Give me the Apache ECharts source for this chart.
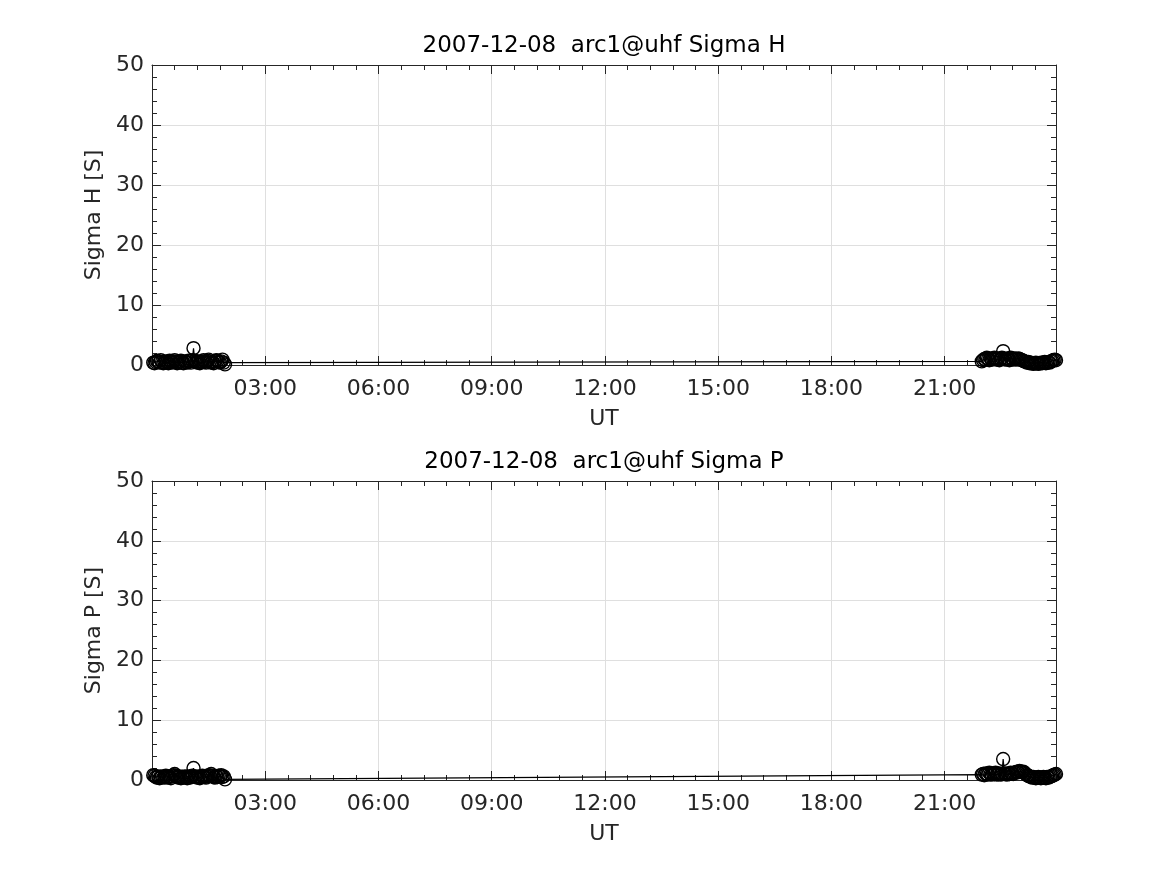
<!DOCTYPE html>
<html>
<head>
<meta charset="utf-8">
<script src="https://cdn.jsdelivr.net/npm/echarts@6/dist/echarts.min.js"></script>
<style>
html,body{margin:0;padding:0;background:#fff;}
#chart{width:1167px;height:875px;}
</style>
</head>
<body>
<div id="chart"></div>
<script>
// Time in minutes of day (UT)
var minutesLeft = [2,4,6,8,10,12,14,16,18,20,22,24,26,28,30,32,34,36,38,40,42,44,46,48,50,52,54,56,58,60,62,64,66,68,70,72,74,76,78,80,82,84,86,88,90,92,94,96,98,100,102,104,106,108,110,112,114,116];
var minutesRight = [1319,1321,1323,1325,1327,1329,1331,1333,1335,1337,1339,1341,1343,1345,1347,1349,1351,1353,1355,1357,1359,1361,1363,1365,1367,1369,1371,1373,1375,1377,1379,1381,1383,1385,1387,1389,1391,1393,1395,1397,1399,1401,1403,1405,1407,1409,1411,1413,1415,1417,1419,1421,1423,1425,1427,1429,1431,1433,1435,1437];

// Sigma H [S]
var sigmaHLeft = [0.4,0.3,0.5,0.7,0.6,0.4,0.8,0.5,0.3,0.4,
                  0.6,0.5,0.3,0.7,0.5,0.4,0.6,0.8,0.5,0.3,
                  0.4,0.5,0.7,0.4,0.3,0.6,0.5,0.4,0.7,0.6,
                  0.4,0.8,2.8,0.7,0.5,0.4,0.6,0.3,0.5,0.6,
                  0.8,0.5,0.4,0.7,0.9,0.6,0.4,0.5,0.3,0.6,
                  0.8,0.7,0.5,0.4,0.6,0.9,0.4,0.1];
var sigmaHRight = [0.6,0.8,1.0,0.9,1.2,1.0,0.8,1.1,0.9,1.0,
                   1.2,1.0,0.9,1.1,0.8,1.0,1.2,2.3,1.0,0.9,
                   1.1,1.0,0.8,1.2,1.0,0.9,1.1,1.0,0.9,1.1,
                   1.0,0.9,0.8,0.7,0.6,0.5,0.4,0.5,0.3,0.4,
                   0.3,0.2,0.3,0.4,0.3,0.2,0.3,0.4,0.3,0.4,
                   0.5,0.3,0.4,0.5,0.4,0.6,0.7,0.8,0.9,0.8];

// Sigma P [S]
var sigmaPLeft = [0.8,0.7,0.5,0.4,0.6,0.3,0.5,0.6,0.4,0.5,
                  0.7,0.4,0.6,0.5,0.3,0.6,0.8,1.0,0.7,0.5,
                  0.4,0.6,0.3,0.5,0.4,0.6,0.5,0.3,0.6,0.4,
                  0.5,0.7,2.0,0.6,0.5,0.4,0.6,0.3,0.5,0.7,
                  0.6,0.5,0.4,0.6,0.8,0.7,1.0,0.7,0.5,0.4,
                  0.6,0.5,0.7,0.6,0.8,0.5,0.6,0.1];
var sigmaPRight = [0.9,1.0,0.8,1.1,1.0,0.9,1.2,1.0,0.9,1.1,
                   1.0,1.2,0.9,1.0,1.1,0.9,1.0,3.5,1.1,1.0,
                   0.9,1.1,1.0,1.2,1.1,1.0,1.2,1.3,1.4,1.3,
                   1.5,1.4,1.3,1.4,1.2,1.0,0.8,0.7,0.6,0.5,
                   0.4,0.5,0.4,0.3,0.4,0.5,0.4,0.3,0.4,0.5,
                   0.4,0.3,0.5,0.4,0.5,0.6,0.7,0.8,0.9,1.0];

var xTickLabels = ['03:00','06:00','09:00','12:00','15:00','18:00','21:00'];
var yTicks = [0,10,20,30,40,50];
var titles = ['2007-12-08  arc1@uhf Sigma H', '2007-12-08  arc1@uhf Sigma P'];
var yNames = ['Sigma H [S]', 'Sigma P [S]'];
var xName = 'UT';

var FONT = 'DejaVu Sans';
var AX = '#262626';
var X_MIN = 0, X_MAX = 1437, X_INT = 180;
var Y_MIN = yTicks[0], Y_MAX = yTicks[yTicks.length-1], Y_INT = 10;

function pairs(t, v) {
  var out = [];
  for (var i = 0; i < t.length; i++) out.push([t[i], v[i]]);
  return out;
}

function xLabel(v) {
  if (v > 0 && v % X_INT === 0) {
    var idx = v / X_INT - 1;
    return xTickLabels[idx] || '';
  }
  return '';
}

var grids = [
  {left:152, top:65, width:904, height:300},
  {left:152, top:481, width:904, height:299}
];

var xAxes = [], yAxes = [], series = [], titleArr = [];
var seriesData = [
  pairs(minutesLeft.concat(minutesRight), sigmaHLeft.concat(sigmaHRight)),
  pairs(minutesLeft.concat(minutesRight), sigmaPLeft.concat(sigmaPRight))
];

for (var g = 0; g < 2; g++) {
  var tickCommon = {show:true, inside:true, length:9, lineStyle:{color:AX, width:1}};
  var minorCommon = {show:true, splitNumber:5, length:5, lineStyle:{color:AX, width:1}};
  xAxes.push({
    type:'value', gridIndex:g, position:'bottom', min:X_MIN, max:X_MAX, interval:X_INT,
    axisLine:{show:true, onZero:false, lineStyle:{color:AX, width:1}},
    axisTick:tickCommon, minorTick:minorCommon,
    axisLabel:{show:true, formatter:xLabel, color:AX, fontFamily:FONT, fontSize:22, margin:13, showMaxLabel:false},
    splitLine:{show:true, lineStyle:{color:'#dfdfdf', width:1}},
    name:xName, nameLocation:'middle', nameGap:43,
    nameTextStyle:{color:AX, fontFamily:FONT, fontSize:22}
  });
  xAxes.push({
    type:'value', gridIndex:g, position:'top', min:X_MIN, max:X_MAX, interval:X_INT,
    axisLine:{show:true, onZero:false, lineStyle:{color:AX, width:1}},
    axisTick:tickCommon, minorTick:minorCommon,
    axisLabel:{show:false}, splitLine:{show:false}
  });
  yAxes.push({
    type:'value', gridIndex:g, position:'left', min:Y_MIN, max:Y_MAX, interval:Y_INT,
    axisLine:{show:true, onZero:false, lineStyle:{color:AX, width:1}},
    axisTick:tickCommon, minorTick:minorCommon,
    axisLabel:{show:true, color:AX, fontFamily:FONT, fontSize:22, margin:8},
    splitLine:{show:true, lineStyle:{color:'#dfdfdf', width:1}},
    name:yNames[g], nameLocation:'middle', nameGap:40, nameRotate:90,
    nameTextStyle:{color:AX, fontFamily:FONT, fontSize:22}
  });
  yAxes.push({
    type:'value', gridIndex:g, position:'right', min:Y_MIN, max:Y_MAX, interval:Y_INT,
    axisLine:{show:true, onZero:false, lineStyle:{color:AX, width:1}},
    axisTick:tickCommon, minorTick:minorCommon,
    axisLabel:{show:false}, splitLine:{show:false}
  });
  series.push({
    type:'line', xAxisIndex:g*2, yAxisIndex:g*2, data:seriesData[g],
    symbol:'circle', symbolSize:13, showAllSymbol:true,
    lineStyle:{color:'#000', width:1.2},
    itemStyle:{color:'rgba(0,0,0,0)', borderColor:'#000', borderWidth:1.4},
    emphasis:{disabled:true}, silent:true, clip:false, z:3
  });
  titleArr.push({
    text:titles[g], left:604, top:(g===0?35:451), textAlign:'center', padding:0,
    textStyle:{color:'#000', fontFamily:FONT, fontSize:23, fontWeight:'normal'}
  });
}

var chart = echarts.init(document.getElementById('chart'), null, {renderer:'canvas'});
chart.setOption({
  animation:false,
  backgroundColor:'#fff',
  title:titleArr,
  grid:grids,
  xAxis:xAxes,
  yAxis:yAxes,
  series:series
});
</script>
</body>
</html>
